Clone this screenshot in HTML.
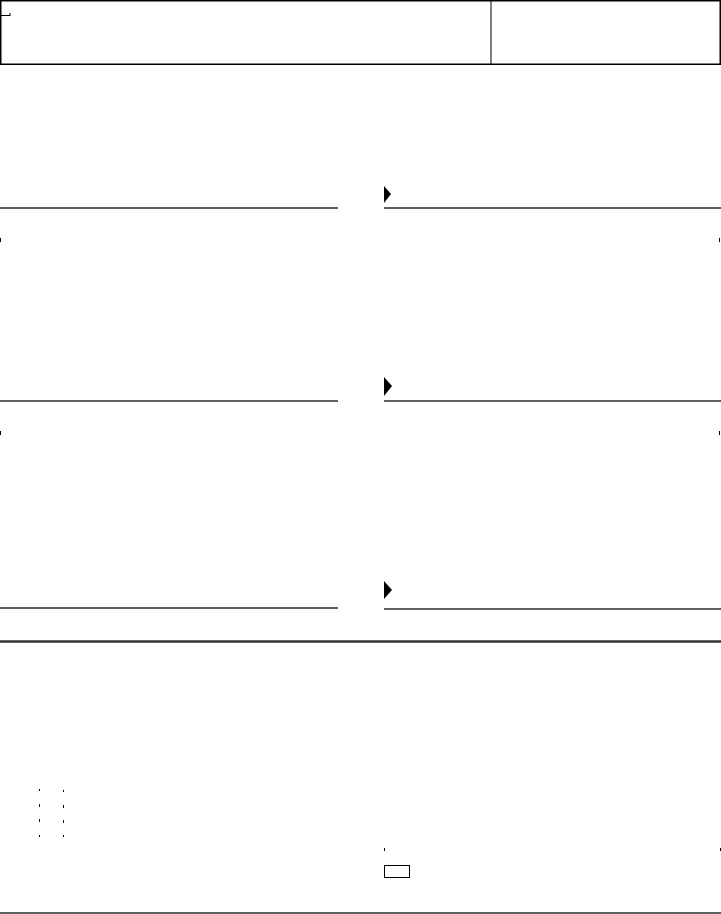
<!DOCTYPE html>
<html><head><meta charset="utf-8"><style>
html,body{margin:0;padding:0;background:#fff;width:721px;height:914px;overflow:hidden}
</style></head><body>
<svg width="721" height="914" viewBox="0 0 721 914" xmlns="http://www.w3.org/2000/svg">
<rect x="0.75" y="0.75" width="719.5" height="63.5" fill="none" stroke="#000" stroke-width="1.5"/>
<line x1="491" y1="1" x2="491" y2="64" stroke="#000" stroke-width="1"/>
<line x1="1" y1="15.5" x2="10" y2="15.5" stroke="#000" stroke-width="1"/>
<line x1="10" y1="13" x2="10" y2="16" stroke="#000" stroke-width="1"/>
<g stroke="#000" stroke-width="1.3">
<line x1="0" y1="208" x2="338" y2="208"/>
<line x1="384" y1="208" x2="721" y2="208"/>
<line x1="0" y1="401" x2="338" y2="401"/>
<line x1="384" y1="401" x2="721" y2="401"/>
<line x1="0" y1="608" x2="338" y2="608"/>
<line x1="384" y1="609" x2="721" y2="609"/>
<line x1="0" y1="913" x2="721" y2="913"/>
</g>
<line x1="0" y1="641.5" x2="721" y2="641.5" stroke="#333" stroke-width="2.5"/>
<g fill="#000">
<polygon points="384,186 391,194 384,203"/>
<polygon points="384,377 392,386 384,396"/>
<polygon points="384,581 392,590 384,599"/>
<rect x="0" y="238" width="1" height="4"/><rect x="719" y="238" width="1" height="4"/>
<rect x="0" y="431" width="1" height="4"/><rect x="719" y="431" width="1" height="4"/>
<rect x="384" y="848" width="1" height="3"/><rect x="720" y="848" width="1" height="3"/>
<rect x="39" y="789" width="1" height="2"/><rect x="63" y="790" width="1" height="2"/>
<rect x="39" y="804" width="1" height="3"/><rect x="63" y="805" width="1" height="3"/>
<rect x="39" y="819" width="1" height="3"/><rect x="63" y="820" width="1" height="3"/>
<rect x="39" y="835" width="1" height="2"/><rect x="63" y="835" width="1" height="2"/>
</g>
<rect x="384.5" y="865.5" width="25" height="12" fill="none" stroke="#000" stroke-width="1"/>
</svg>
</body></html>
